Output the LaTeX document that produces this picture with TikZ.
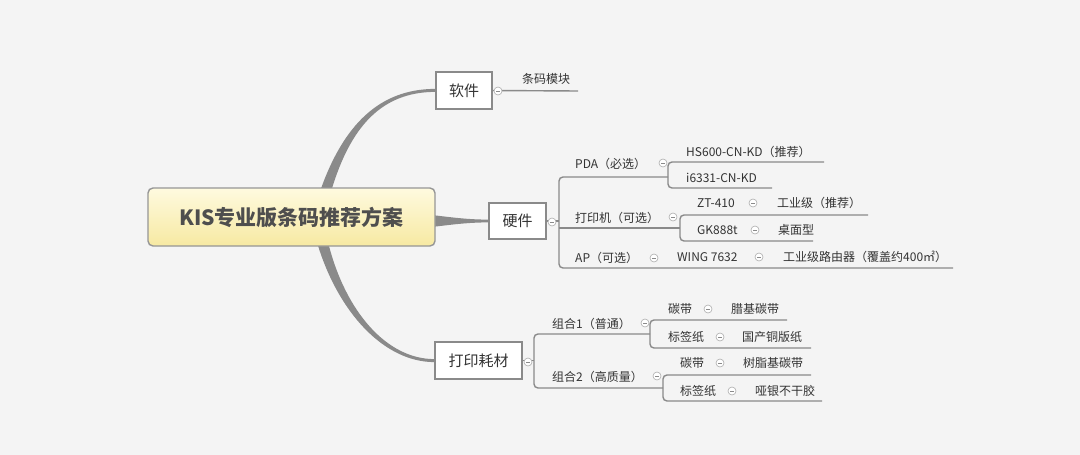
\documentclass[tikz,border=0pt]{standalone}
\usepackage{fontspec}
\setmainfont{Noto Sans CJK SC}
\usetikzlibrary{calc}
\definecolor{bg}{HTML}{F4F4F4}
\definecolor{ln}{HTML}{8A8A8A}
\definecolor{txt}{HTML}{333333}
\definecolor{roottxt}{HTML}{4E4E4E}
\definecolor{ytop}{HTML}{FEFADF}
\definecolor{ybot}{HTML}{F7E9A2}
\tikzset{
  leaf/.style={font=\fontsize{12}{14}\selectfont, text=txt, inner sep=0pt, anchor=west},
  mainbox/.style={draw=ln, fill=white, line width=1.3pt, font=\fontsize{15}{17}\selectfont, text=txt, inner sep=0pt},
  rootbox/.style={draw=ln!90, line width=1.4pt, rounded corners=5pt, top color=ytop, bottom color=ybot,
    font=\fontsize{21}{24}\selectfont\bfseries, text=roottxt, inner sep=0pt, minimum width=287pt, minimum height=58pt},
  conn/.style={draw=ln, line width=1.4pt, rounded corners=4pt},
  fold/.style={circle, draw=ln!70, fill=white, line width=0.6pt, minimum size=8pt, inner sep=0pt,
    path picture={\draw[ln, line width=0.6pt] ([xshift=-2pt]path picture bounding box.center) -- ([xshift=2pt]path picture bounding box.center);}},
}
\begin{document}
\begin{tikzpicture}[x=1pt,y=-1pt]
\fill[bg] (0,0) rectangle (1080,455);
\useasboundingbox (0,0) rectangle (1080,455);

% ---- main topics
\node[mainbox, minimum width=56pt, minimum height=37pt] (soft) at (464,90.5) {软件};
\node[mainbox, minimum width=57pt, minimum height=36pt] (hard) at (517.5,221) {硬件};
\node[mainbox, minimum width=87pt, minimum height=37pt] (cons) at (478.5,360.5) {打印耗材};

% ---- root anchor helper (root drawn later, on top)
\coordinate (rootc) at (291.5,217);

% ---- tapered main connectors
\fill[ln] ($(rootc)+(29,-27)$) .. controls +(23pt,65pt) and +(-56pt,0pt) .. ([yshift=1.6pt]soft.west)
  -- ([yshift=-1.4pt]soft.west) .. controls +(-54pt,0pt) and +(19pt,63pt) .. ($(rootc)+(40,-27)$) -- cycle;
\fill[ln] ($(rootc)+(26,27)$) .. controls +(21pt,-69pt) and +(-50pt,0pt) .. ([yshift=-1.6pt]cons.west)
  -- ([yshift=1.4pt]cons.west) .. controls +(-48pt,0pt) and +(17pt,-67pt) .. ($(rootc)+(37,27)$) -- cycle;
\fill[ln] ($(rootc)+(140,-2)$) .. controls +(18pt,-2pt) and +(-22pt,0pt) .. ([yshift=1.4pt]hard.west)
  -- ([yshift=-1.4pt]hard.west) .. controls +(-22pt,0pt) and +(18pt,2pt) .. ($(rootc)+(140,10)$) -- cycle;

% ---- root
\node[rootbox] (root) at (rootc) {KIS专业版条码推荐方案};

% ---- software branch
\node[leaf] (barcode) at (522,79) {条码模块};
\coordinate (softend) at (578,91);
\draw[conn] (soft.east) -- (softend);
\node[fold] (fsoft) at (498,91) {};

% ---- hardware branch
\node[leaf] (pda) at (575,164) {PDA（必选）};
\node[leaf] (printer) at (575,218) {打印机（可选）};
\node[leaf] (ap) at (575,258) {AP（可选）};
\node[leaf] (hs) at (686,152) {HS600-CN-KD（推荐）};
\node[leaf] (i6) at (686,178) {i6331-CN-KD};
\node[leaf] (zt) at (697,203) {ZT-410};
\node[leaf] (ztd) at (777,203) {工业级（推荐）};
\node[leaf] (gk) at (697,230) {GK888t};
\node[leaf] (gkd) at (778,230) {桌面型};
\node[leaf] (wing) at (677,257) {WING 7632};
\node[leaf] (wingd) at (783,257) {工业级路由器（覆盖约400㎡）};

\coordinate (hv) at (559,177);
\coordinate (pdaj) at (668,177);
\coordinate (prj) at (680,228);
\coordinate (apend) at (953,268);
\coordinate (hsend) at (824,162);
\coordinate (i6end) at (772,188);
\coordinate (ztend) at (868,215);
\coordinate (gkend) at (813,241);

\draw[conn] (pdaj) -- (hv) |- (apend);
\draw[conn] (hv |- prj) -- (prj);
\draw[conn] (hsend) -- (pdaj |- hsend) |- (i6end);
\draw[conn] (ztend) -- (prj |- ztend) |- (gkend);
\draw[ln, line width=1.4pt] (hard.east) -- (hv |- hard.east);

\node[fold] (fhard) at (552,222) {};
\node[fold] (fpda) at (663,163) {};
\node[fold] (fpr) at (673,217) {};
\node[fold] (fap) at (654,258) {};
\node[fold] (fzt) at (753,203) {};
\node[fold] (fgk) at (755,230) {};
\node[fold] (fwing) at (759,257) {};

% ---- consumables branch
\node[leaf] (c1) at (552,324) {组合1（普通）};
\node[leaf] (c2) at (552,377) {组合2（高质量）};
\node[leaf] (t1) at (668,309) {碳带};
\node[leaf] (t1d) at (731,309) {腊基碳带};
\node[leaf] (b1) at (668,337) {标签纸};
\node[leaf] (b1d) at (742,337) {国产铜版纸};
\node[leaf] (t2) at (680,363) {碳带};
\node[leaf] (t2d) at (743,363) {树脂基碳带};
\node[leaf] (b2) at (680,391) {标签纸};
\node[leaf] (b2d) at (755,391) {哑银不干胶};

\coordinate (cv) at (534,334);
\coordinate (c1j) at (650,334);
\coordinate (c2j) at (663,388);
\coordinate (t1end) at (787,320);
\coordinate (b1end) at (811,348);
\coordinate (t2end) at (811,375);
\coordinate (b2end) at (822,401);

\draw[conn] (c1j) -- (cv) |- (c2j);
\draw[conn] (t1end) -- (c1j |- t1end) |- (b1end);
\draw[conn] (t2end) -- (c2j |- t2end) |- (b2end);
\draw[ln, line width=1.4pt] (cons.east) -- (cv |- cons.east);

\node[fold] (fcons) at (528,362) {};
\node[fold] (fc1) at (645,323) {};
\node[fold] (fc2) at (657,376) {};
\node[fold] (ft1) at (708,309) {};
\node[fold] (fb1) at (720,337) {};
\node[fold] (ft2) at (720,363) {};
\node[fold] (fb2) at (732,391) {};
\end{tikzpicture}
\end{document}
